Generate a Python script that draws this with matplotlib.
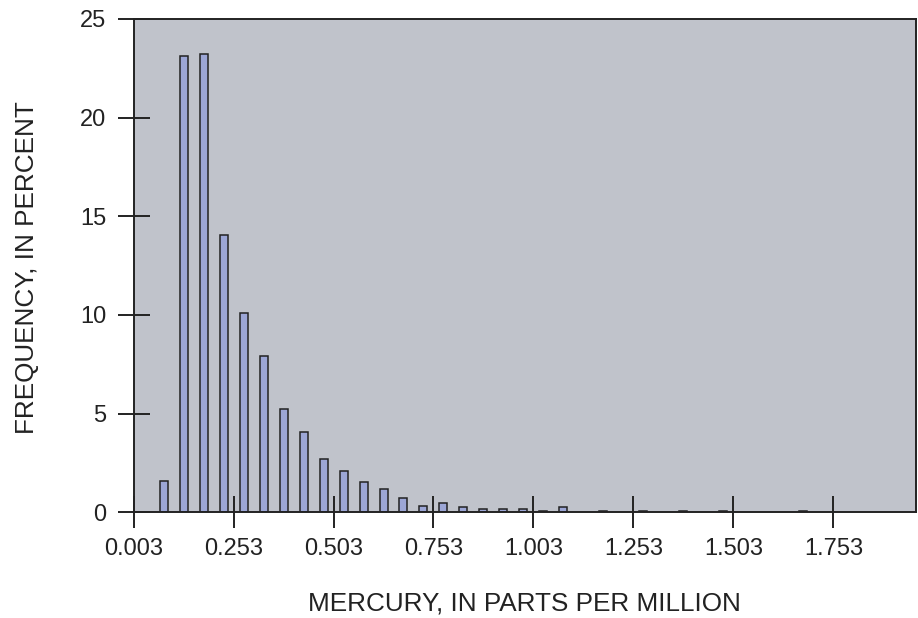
import matplotlib
matplotlib.use("Agg")
import matplotlib.pyplot as plt

# Data
bin_centers = [0.078, 0.128, 0.178, 0.228, 0.278, 0.328, 0.378, 0.428, 0.478, 0.528,
               0.578, 0.628, 0.678, 0.728, 0.778, 0.828, 0.878, 0.928, 0.978, 1.028,
               1.078, 1.128, 1.178, 1.228, 1.278, 1.328, 1.378, 1.428, 1.478, 1.528,
               1.578, 1.628, 1.678]
frequency = [1.6, 23.1, 23.2, 14.05, 10.1, 7.92, 5.25, 4.08, 2.72, 2.07,
             1.53, 1.17, 0.73, 0.34, 0.45, 0.27, 0.17, 0.17, 0.17, 0.08,
             0.27, 0.0, 0.06, 0.0, 0.06, 0.0, 0.06, 0.0, 0.06, 0.0,
             0.0, 0.0, 0.06]
x_ticks = [0.003, 0.253, 0.503, 0.753, 1.003, 1.253, 1.503, 1.753]
x_tick_labels = ["0.003", "0.253", "0.503", "0.753", "1.003", "1.253", "1.503", "1.753"]
y_ticks = [0, 5, 10, 15, 20, 25]
x_label = "MERCURY, IN PARTS PER MILLION"
y_label = "FREQUENCY, IN PERCENT"

plt.rcParams["font.family"] = ["Liberation Sans", "DejaVu Sans"]

fig = plt.figure(figsize=(9.18, 6.18), dpi=100)
ax = fig.add_axes([0.1455, 0.171, 0.8525, 0.7985])
ax.set_facecolor("#c0c3cb")

xs = [c for c, v in zip(bin_centers, frequency) if v > 0]
vs = [v for v in frequency if v > 0]
ax.bar(xs, vs, width=0.02, color="#9ca6d6", edgecolor="#222222",
       linewidth=1.1, zorder=2)

ax.set_xlim(0.003, 1.96)
ax.set_ylim(0, 25)
ax.set_xticks(x_ticks)
ax.set_xticklabels(x_tick_labels)
ax.set_yticks(y_ticks)

for s in ax.spines.values():
    s.set_linewidth(1.4)
    s.set_color("#222222")
    s.set_zorder(3)

ax.tick_params(axis="x", direction="inout", length=23.5, width=1.4,
               color="#222222", labelsize=17, pad=7.0, labelcolor="#222222")
ax.tick_params(axis="y", direction="inout", length=23.5, width=1.4,
               color="#222222", labelsize=17, pad=8.0, labelcolor="#222222")

ax.set_xlabel(x_label, fontsize=18.8, color="#222222")
ax.set_ylabel(y_label, fontsize=18.8, color="#222222")
ax.xaxis.label.set_va("center")
ax.yaxis.label.set_va("center")
ax.xaxis.set_label_coords(0.5, -0.184)
ax.yaxis.set_label_coords(-0.136, 0.497)

fig.savefig("out.png", dpi=100)
